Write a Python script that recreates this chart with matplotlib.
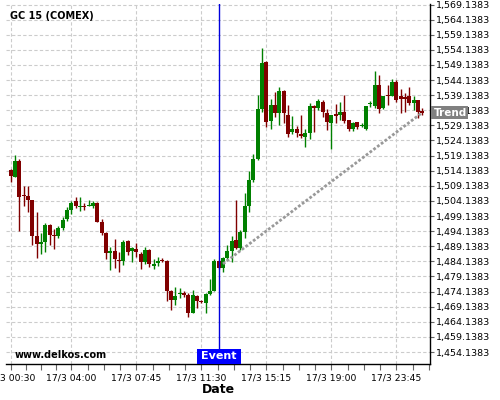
import numpy as np
import matplotlib
matplotlib.use("Agg")
import matplotlib.pyplot as plt
import matplotlib.transforms as mtrans
from matplotlib.patches import Rectangle
from matplotlib.ticker import FuncFormatter

# Velas de 15 minutos, GC 15 (COMEX)
titulo = "GC 15 (COMEX)"
abre = [1514.4, 1512.2, 1517.5, 1506.1, 1505.9, 1504.5, 1492.6, 1489.8, 1490.7, 1496.2,
        1492.7, 1492.4, 1495.1, 1498.1, 1501.2, 1504.2, 1502.1, 1502.6, 1502.3, 1502.5,
        1503.6, 1497.3, 1493.5, 1486.9, 1487.6, 1484.7, 1484.1, 1491.0, 1487.6, 1488.3,
        1486.6, 1483.8, 1488.0, 1482.7, 1483.6, 1484.6, 1484.1, 1474.4, 1471.2, 1473.2,
        1473.8, 1473.0, 1467.2, 1472.8, 1471.1, 1470.3, 1473.4, 1474.4, 1484.3, 1481.9,
        1485.4, 1487.6, 1491.2, 1488.7, 1494.0, 1502.6, 1511.0, 1517.9, 1534.6, 1550.2,
        1530.7, 1535.9, 1533.2, 1540.6, 1532.6, 1526.8, 1527.9, 1526.3, 1525.4, 1526.5,
        1535.7, 1535.0, 1537.0, 1533.4, 1529.9, 1532.8, 1532.6, 1533.7, 1530.9, 1528.0,
        1530.1, 1529.0, 1528.0, 1536.1, 1535.6, 1542.5, 1534.8, 1539.0, 1538.9, 1543.6,
        1538.7, 1538.5, 1538.7, 1536.5, 1537.6, 1533.7]
maxi = [1514.6, 1519.4, 1518.0, 1509.1, 1509.1, 1504.6, 1500.4, 1493.5, 1496.8, 1496.6,
        1494.9, 1495.8, 1498.8, 1502.1, 1504.2, 1505.6, 1505.3, 1503.4, 1504.5, 1504.0,
        1503.7, 1498.1, 1494.0, 1489.0, 1491.5, 1487.4, 1491.3, 1491.3, 1488.8, 1490.2,
        1487.3, 1489.0, 1488.2, 1485.0, 1485.5, 1485.1, 1484.6, 1474.5, 1475.8, 1475.3,
        1474.3, 1473.6, 1474.5, 1473.0, 1471.3, 1473.6, 1478.3, 1484.9, 1484.6, 1485.5,
        1489.5, 1492.4, 1504.3, 1494.6, 1506.9, 1513.9, 1519.7, 1539.2, 1554.6, 1550.4,
        1537.8, 1540.3, 1541.9, 1541.0, 1535.9, 1532.3, 1529.0, 1532.6, 1527.9, 1536.7,
        1535.9, 1537.9, 1537.6, 1534.5, 1532.6, 1536.3, 1537.0, 1539.2, 1531.0, 1530.4,
        1530.2, 1530.0, 1535.6, 1537.3, 1547.1, 1545.8, 1539.0, 1542.5, 1544.4, 1544.2,
        1541.1, 1539.8, 1541.8, 1538.9, 1537.7, 1534.8]
mini = [1510.3, 1512.0, 1494.3, 1502.3, 1500.6, 1489.6, 1485.2, 1486.6, 1487.1, 1489.6,
        1488.3, 1491.9, 1494.4, 1497.4, 1499.8, 1501.7, 1500.8, 1501.2, 1502.3, 1501.8,
        1497.0, 1493.0, 1484.9, 1481.4, 1481.9, 1480.5, 1483.0, 1486.2, 1483.8, 1485.5,
        1481.5, 1483.4, 1482.3, 1481.6, 1482.6, 1484.0, 1471.1, 1467.9, 1469.8, 1472.0,
        1472.5, 1465.7, 1467.0, 1468.7, 1470.5, 1467.0, 1473.1, 1474.2, 1481.7, 1480.5,
        1484.7, 1483.8, 1488.3, 1488.0, 1491.8, 1500.4, 1510.5, 1517.7, 1533.5, 1528.7,
        1527.9, 1532.0, 1529.3, 1530.0, 1525.2, 1526.3, 1525.2, 1524.9, 1522.1, 1524.6,
        1526.8, 1534.1, 1532.0, 1527.6, 1521.3, 1529.9, 1531.0, 1530.0, 1527.2, 1527.3,
        1527.9, 1528.5, 1527.6, 1535.1, 1534.9, 1533.2, 1534.5, 1535.9, 1538.7, 1537.0,
        1533.2, 1533.7, 1535.9, 1534.2, 1531.5, 1532.6]
cierra = [1512.5, 1517.2, 1505.6, 1505.7, 1504.5, 1492.6, 1489.8, 1490.7, 1496.2, 1492.7,
          1492.4, 1495.1, 1497.9, 1501.2, 1503.4, 1502.3, 1502.5, 1502.2, 1502.6, 1503.6,
          1497.3, 1493.5, 1486.9, 1487.6, 1485.0, 1484.1, 1490.7, 1487.4, 1488.5, 1487.1,
          1483.8, 1488.0, 1483.3, 1483.3, 1484.1, 1484.1, 1474.4, 1471.2, 1472.8, 1473.6,
          1473.0, 1467.0, 1472.9, 1470.9, 1470.8, 1473.4, 1474.4, 1484.1, 1481.9, 1485.4,
          1487.6, 1490.9, 1488.5, 1493.7, 1502.3, 1511.1, 1518.0, 1534.6, 1549.9, 1530.4,
          1535.9, 1533.4, 1540.6, 1533.2, 1526.3, 1527.9, 1526.5, 1525.7, 1526.5, 1535.7,
          1535.0, 1537.2, 1533.7, 1530.1, 1532.6, 1532.4, 1533.7, 1530.7, 1528.0, 1529.9,
          1528.7, 1529.4, 1535.4, 1536.6, 1542.5, 1534.6, 1538.9, 1538.7, 1543.6, 1537.6,
          1537.8, 1537.8, 1536.5, 1537.6, 1533.7, 1533.4]
etiquetas_x = ["17/3 00:30", "17/3 04:00", "17/3 07:45", "17/3 11:30",
               "17/3 15:15", "17/3 19:00", "17/3 23:45"]
pos_x = [0, 14, 29, 44, 59, 74, 89]
evento = 48
tendencia_x = [49, 95]
tendencia_y = [1483.3, 1533.4]
niveles_y = 1454.1383 + 5 * np.arange(24)

verde = "#008000"
rojo = "#800000"

fig = plt.figure(figsize=(5, 4), dpi=100)
ax = fig.add_axes([0.012, 0.09, 0.848, 0.90])

o = np.array(abre)
h = np.array(maxi)
l = np.array(mini)
c = np.array(cierra)
x = np.arange(len(o))
colores = np.where(c >= o, verde, rojo)

ax.vlines(x, l, h, colors=colores, lw=1, zorder=3)
cuerpo = np.maximum(np.abs(c - o), 0.35)
ax.bar(x, cuerpo, bottom=np.minimum(o, c), width=0.95, color=colores, lw=0, zorder=3)

# linea de tendencia
ax.plot(tendencia_x, tendencia_y, color="#999999", lw=2, ls=(0, (1.0, 0.7)), zorder=4)

# evento
ax.axvline(evento, color="#0000dd", lw=1, zorder=5)
tr = mtrans.blended_transform_factory(ax.transData, ax.transAxes)
ax.add_patch(Rectangle((evento - 5.1, 0), 10.2, 0.042, transform=tr,
                       fc="#0000ff", ec="none", zorder=6, clip_on=False))
ax.text(evento, 0.021, "Event", transform=tr, ha="center", va="center",
        color="white", fontsize=8, fontweight="bold", zorder=7)

ax.set_xlim(-1.08, 96.77)
ax.set_ylim(1450.17, 1569.31)

# etiqueta Trend sobre el eje derecho
tr2 = mtrans.blended_transform_factory(ax.transAxes, ax.transData)
ax.add_patch(Rectangle((1.0024, tendencia_y[1] - 2.0), 0.087, 4.0, transform=tr2,
                       fc="#808080", ec="none", zorder=10, clip_on=False))
ax.text(1.0095, tendencia_y[1], "Trend", transform=tr2, ha="left", va="center",
        color="white", fontsize=7.5, fontweight="bold", zorder=11, clip_on=False)

ax.text(0.0094, 0.9675, titulo, transform=ax.transAxes, fontsize=7,
        fontweight="bold", va="center", ha="left")
ax.text(0.021, 0.026, "www.delkos.com", transform=ax.transAxes, fontsize=7,
        fontweight="bold", va="center", ha="left")

# ejes
ax.yaxis.tick_right()
ax.set_yticks(niveles_y)
ax.yaxis.set_major_formatter(FuncFormatter(lambda v, p: f"{v:,.4f}"))
ax.set_xticks(pos_x)
ax.set_xticklabels(etiquetas_x)
menores = []
for i in range(len(pos_x)):
    paso = (pos_x[i + 1] - pos_x[i]) / 4 if i + 1 < len(pos_x) else 3.75
    for k in range(1, 4 if i + 1 < len(pos_x) else 3):
        menores.append(pos_x[i] + paso * k)
ax.set_xticks(menores, minor=True)

ax.tick_params(axis="x", which="both", length=4, width=0.8, color="#666666",
               labelsize=6.7, pad=2.5)
ax.tick_params(axis="y", length=3, width=0.8, color="#666666", labelsize=6.8, pad=1.5)

ax.grid(True, which="major", color="#cccccc", ls=(0, (3, 2)), lw=0.8)
ax.set_axisbelow(True)
for lado in ["top", "left"]:
    ax.spines[lado].set_visible(False)
for lado in ["bottom", "right"]:
    ax.spines[lado].set_linewidth(1)

ax.set_xlabel("Date", fontsize=9, fontweight="bold", labelpad=1)

plt.savefig("out.png", dpi=100)
